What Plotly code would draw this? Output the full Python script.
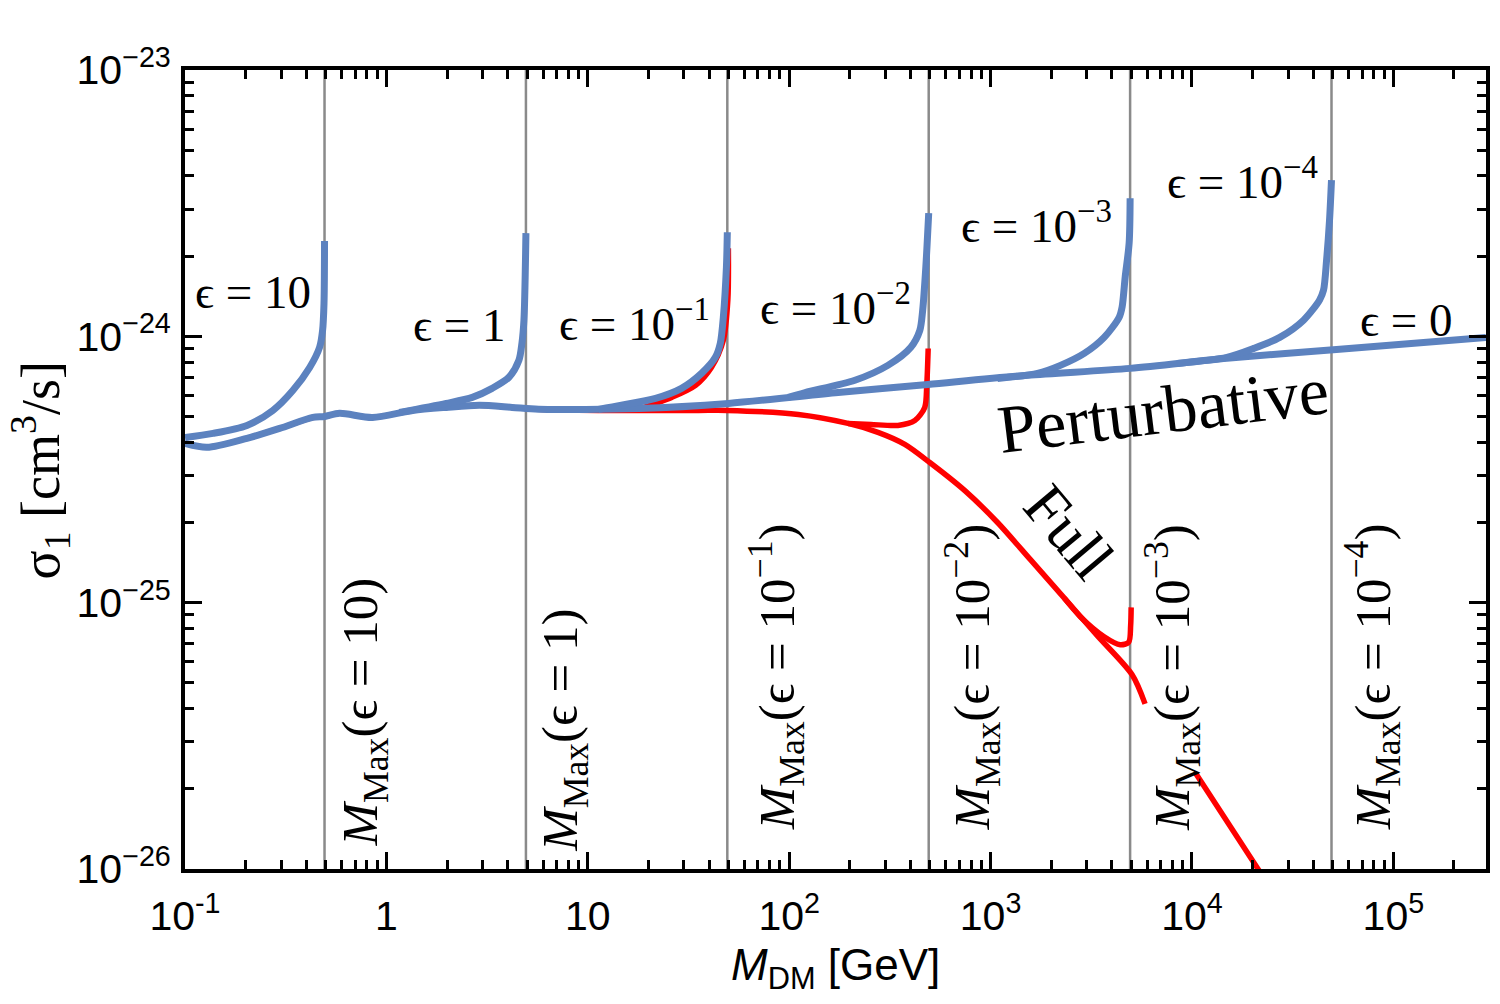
import plotly.graph_objects as go

# ---------------- data ----------------
M_MAX = [0.493, 4.93, 49.3, 493, 4930, 49300]
M_MAX_LABELS = ["10", "1", "10<sup>−1</sup>", "10<sup>−2</sup>", "10<sup>−3</sup>", "10<sup>−4</sup>"]

PERT_M = [0.1, 0.1285, 0.203, 0.295, 0.431, 0.493, 0.585, 0.853, 1.35, 1.98, 2.89, 4.21, 5.7,
          17.9, 49.9, 175, 488, 1524, 4930, 14900, 52200, 288000]
PERT_S = [3.96e-25, 3.83e-25, 4.14e-25, 4.51e-25, 4.96e-25, 5.00e-25, 5.14e-25, 4.96e-25, 5.27e-25,
          5.41e-25, 5.51e-25, 5.41e-25, 5.32e-25, 5.36e-25, 5.60e-25, 6.15e-25, 6.60e-25, 7.14e-25,
          7.58e-25, 8.27e-25, 8.93e-25, 9.91e-25]

FULL_M = [0.1, 0.1285, 0.203, 0.295, 0.431, 0.493, 0.585, 0.853, 1.35, 1.98, 2.89, 4.21, 5.7,
          11.3, 35.5, 49.3, 111, 196, 276, 375, 499, 743, 1083, 1578, 2324, 3388, 5047, 5850]
FULL_S = [3.96e-25, 3.83e-25, 4.14e-25, 4.51e-25, 4.96e-25, 5.00e-25, 5.14e-25, 4.96e-25, 5.27e-25,
          5.41e-25, 5.51e-25, 5.41e-25, 5.32e-25, 5.27e-25, 5.27e-25, 5.27e-25, 5.09e-25, 4.71e-25,
          4.36e-25, 3.93e-25, 3.36e-25, 2.64e-25, 2.00e-25, 1.45e-25, 1.04e-25, 7.52e-26, 5.36e-26,
          4.17e-26]
FULL2_M = [10470, 21470, 30000]
FULL2_S = [2.28e-26, 9.9e-27, 6.7e-27]

RED_E1_M = [17.9, 26.1, 34.3, 41.1, 47.1, 49.6, 49.9]
RED_E1_S = [5.32e-25, 5.90e-25, 6.55e-25, 7.64e-25, 9.66e-25, 1.37e-24, 2.14e-24]
RED_E2_M = [196, 254.7, 346.7, 420.7, 471, 482, 490]
RED_E2_S = [4.71e-25, 4.67e-25, 4.63e-25, 4.83e-25, 5.41e-25, 6.55e-25, 9.0e-25]
RED_E3_M = [2324, 2791, 3664, 4403, 4850, 4960, 4990]
RED_E3_S = [1.04e-25, 8.86e-26, 7.45e-26, 6.95e-26, 7.1e-26, 8.2e-26, 9.6e-26]

EPS10_M = [0.1, 0.1377, 0.203, 0.273, 0.343, 0.416, 0.466, 0.482, 0.490, 0.493]
EPS10_S = [4.17e-25, 4.32e-25, 4.63e-25, 5.27e-25, 6.26e-25, 7.64e-25, 9.10e-25, 1.05e-24, 1.33e-24, 2.28e-24]
EPS1_M = [1.16, 1.98, 2.67, 3.35, 4.06, 4.55, 4.71, 4.82, 4.93]
EPS1_S = [5.18e-25, 5.60e-25, 5.90e-25, 6.38e-25, 7.02e-25, 8.13e-25, 9.42e-25, 1.15e-24, 2.44e-24]
EPSM1_M = [11.3, 14.7, 21.7, 29.2, 36.7, 43.0, 45.5, 47.1, 48.8, 49.3]
EPSM1_S = [5.32e-25, 5.51e-25, 5.85e-25, 6.38e-25, 7.26e-25, 8.34e-25, 9.42e-25, 1.18e-24, 1.82e-24, 2.46e-24]
EPSM2_M = [98.9, 120, 212, 309, 402, 445, 460, 477, 493]
EPSM2_S = [5.90e-25, 6.15e-25, 6.84e-25, 7.78e-25, 9.10e-25, 1.05e-24, 1.25e-24, 1.82e-24, 2.90e-24]
EPSM3_M = [1083, 1710, 2222, 2918, 3664, 4352, 4500, 4660, 4876, 4930]
EPSM3_S = [6.95e-25, 7.26e-25, 7.78e-25, 8.63e-25, 9.91e-25, 1.18e-24, 1.29e-24, 1.67e-24, 2.24e-24, 3.30e-24]
EPSM4_M = [8430, 14900, 20270, 27290, 35820, 43030, 45000, 46600, 48200, 49300]
EPSM4_S = [7.91e-25, 8.34e-25, 9.01e-25, 9.91e-25, 1.15e-24, 1.37e-24, 1.49e-24, 1.93e-24, 2.73e-24, 3.86e-24]

X_TICKS = [0.1, 1, 10, 100, 1000, 1e4, 1e5]
X_TICK_TEXT = ["10<sup>-1</sup>", "1", "10", "10<sup>2</sup>", "10<sup>3</sup>", "10<sup>4</sup>", "10<sup>5</sup>"]
Y_TICKS = [1e-26, 1e-25, 1e-24, 1e-23]
Y_TICK_TEXT = ["10<sup>−26</sup>", "10<sup>−25</sup>", "10<sup>−24</sup>", "10<sup>−23</sup>"]

# ---------------- styling ----------------
BLUE = "#5c82bf"
RED = "#ff0000"
GRAY = "#8a8a8a"
SERIF = "Liberation Serif, DejaVu Serif, serif"
SANS = "Liberation Sans, Arial, sans-serif"

L, R, T, B = 185, 10, 70, 135
W, H = 1500, 1004
PW, PH = W - L - R, H - T - B


def paper(px, py):
    return (px - L) / PW, 1 - (py - T) / PH


fig = go.Figure()

for m in M_MAX:
    fig.add_trace(go.Scatter(x=[m, m], y=[1e-26, 1e-23], mode="lines",
                             line=dict(color=GRAY, width=2.5), hoverinfo="skip", showlegend=False))

red_curves = [(FULL_M, FULL_S), (FULL2_M, FULL2_S), (RED_E1_M, RED_E1_S),
              (RED_E2_M, RED_E2_S), (RED_E3_M, RED_E3_S)]
for xs, ys in red_curves:
    fig.add_trace(go.Scatter(x=xs, y=ys, mode="lines",
                             line=dict(color=RED, width=5.5, shape="spline", smoothing=0.8),
                             hoverinfo="skip", showlegend=False))

blue_curves = [(PERT_M, PERT_S), (EPS10_M, EPS10_S), (EPS1_M, EPS1_S), (EPSM1_M, EPSM1_S),
               (EPSM2_M, EPSM2_S), (EPSM3_M, EPSM3_S), (EPSM4_M, EPSM4_S)]
for xs, ys in blue_curves:
    fig.add_trace(go.Scatter(x=xs, y=ys, mode="lines",
                             line=dict(color=BLUE, width=7, shape="spline", smoothing=0.8),
                             hoverinfo="skip", showlegend=False))

minor_x = [k * 10 ** e for e in range(-1, 6) for k in range(2, 10)]
minor_y = [k * 10.0 ** e for e in range(-26, -23) for k in range(2, 10)]

axis_common = dict(type="log", showgrid=False, zeroline=False, showline=True, linecolor="black",
                   linewidth=4, mirror="ticks", ticks="inside", ticklen=17, tickwidth=3,
                   tickcolor="black", tickmode="array",
                   tickfont=dict(family=SANS, size=41, color="black"))

fig.update_layout(
    width=W, height=H,
    margin=dict(l=L, r=R, t=T, b=B),
    paper_bgcolor="white", plot_bgcolor="white",
    xaxis=dict(**axis_common, range=[-1, 5.46], tickvals=X_TICKS, ticktext=X_TICK_TEXT,
               ticklabelstandoff=8,
               minor=dict(ticks="inside", ticklen=9, tickwidth=2.5, tickcolor="black",
                          tickmode="array", tickvals=minor_x, showgrid=False)),
    yaxis=dict(**axis_common, range=[-26, -23], tickvals=Y_TICKS, ticktext=Y_TICK_TEXT,
               ticklabelstandoff=2,
               minor=dict(ticks="inside", ticklen=9, tickwidth=2.5, tickcolor="black",
                          tickmode="array", tickvals=minor_y, showgrid=False)),
)

ann = []


def add_text(text, px, py, size, angle=0, family=SERIF):
    xp, yp = paper(px, py)
    ann.append(dict(text=text, x=xp, y=yp, xref="paper", yref="paper", showarrow=False,
                    xanchor="center", yanchor="middle", textangle=angle,
                    font=dict(family=family, size=size, color="black")))


# curve labels
add_text("ϵ = 10", 253, 292, 47)
add_text("ϵ = 1", 460, 325, 47)
add_text("ϵ = 10<sup>−1</sup>", 636, 320, 47)
add_text("ϵ = 10<sup>−2</sup>", 837, 304, 47)
add_text("ϵ = 10<sup>−3</sup>", 1039, 222, 47)
add_text("ϵ = 10<sup>−4</sup>", 1246, 178, 47)
add_text("ϵ = 0", 1410, 320, 47)
add_text("Perturbative", 1166, 410, 68, angle=-7)
add_text("Full", 1072, 532, 62, angle=50)

# M_Max labels along the vertical lines
label_pos = [(365, 712), (565, 730), (778, 677), (974, 677), (1175, 677), (1376, 677)]
for lab, (px_, py_) in zip(M_MAX_LABELS, label_pos):
    add_text("<i>M</i><sub>Max</sub>(ϵ = " + lab + ")", px_, py_, 51, angle=-90)

# axis titles
add_text("σ<sub>1</sub> [cm<sup>3</sup>/s]", 40, 470, 54, angle=-90)
add_text("<i>M</i><sub>DM</sub> [GeV]", 838, 968, 44, family=SANS)

fig.update_layout(annotations=ann)

fig.write_html("out.html")
